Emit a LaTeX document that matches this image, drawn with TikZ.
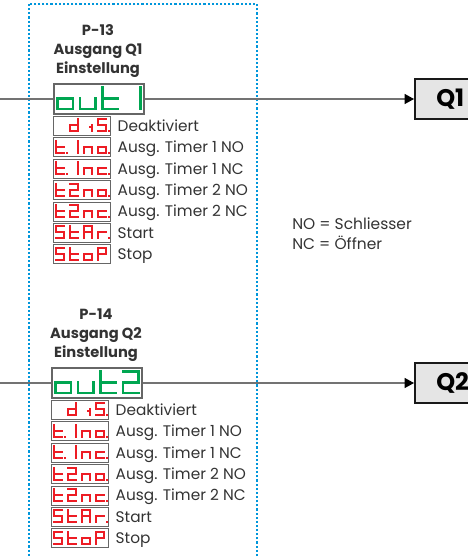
\documentclass[tikz,border=0pt]{standalone}
\usepackage{fontspec}
\setmainfont{Poppins}
\usetikzlibrary{arrows.meta,positioning}
\definecolor{ledred}{RGB}{237,28,36}
\definecolor{ledgreen}{RGB}{0,166,81}
\definecolor{frameblue}{RGB}{0,150,219}
% segments of one LED digit, unit cell (0,0)-(1,1), y downwards
\newcommand{\sgdef}[2]{\expandafter\def\csname lseg#1\endcsname{\draw #2;}}
\sgdef{a}{(0,0)--(1,0)}
\sgdef{b}{(1,0)--(1,.5)}
\sgdef{c}{(1,.5)--(1,1)}
\sgdef{d}{(0,1)--(1,1)}
\sgdef{e}{(0,.5)--(0,1)}
\sgdef{f}{(0,0)--(0,.5)}
\sgdef{g}{(0,.5)--(1,.5)}
\expandafter\def\csname lsegp\endcsname{\fill (1.22,.92) rectangle (1.44,1.08);}
\expandafter\def\csname lsegj\endcsname{\fill (.6,.55) rectangle (.8,.68);}
\newcommand{\ledchar}[3]{\begin{scope}[shift={(#2,0)},#1]\foreach \segl in {#3}{\csname lseg\segl\endcsname}\end{scope}}
\newcommand{\redled}[5]{\begin{scope}[shift={(#1.north west)}]
  \ledchar{redseg}{3}{#2}\ledchar{redseg}{17}{#3}\ledchar{redseg}{31}{#4}\ledchar{redseg}{45}{#5}\end{scope}}
\newcommand{\grnled}[5]{\begin{scope}[shift={(#1.north west)}]
  \ledchar{grnseg}{4.25}{#2}\ledchar{grnseg}{26.75}{#3}\ledchar{grnseg}{49.25}{#4}\ledchar{grnseg}{71.75}{#5}\end{scope}}

\begin{document}
\begin{tikzpicture}[x=0.75pt,y=-0.75pt,
  hdr/.style={align=center,font=\bfseries\fontsize{11}{14.25}\selectfont,text=black!80},
  dsp/.style={draw=black!60,line width=.9pt,fill=white,minimum width=67.5pt,minimum height=22.5pt,inner sep=0pt},
  opt/.style={draw=black!60,line width=.8pt,fill=white,minimum width=42.75pt,minimum height=14.25pt,inner sep=0pt},
  lbl/.style={font=\fontsize{11.5}{13}\selectfont,text=black!80,inner sep=0pt,text height=8pt,text depth=0pt},
  legend/.style={font=\fontsize{11.6}{15}\selectfont,text=black!80,inner sep=0pt,align=left},
  redseg/.style={yshift=-2.625pt,x=6pt,y=-9pt,color=ledred,line width=1.5pt,line cap=rect},
  grnseg/.style={yshift=-3.2pt,x=11.6pt,y=-16.1pt,color=ledgreen,line width=1.95pt,line cap=rect},
  ln/.style={draw=black!55,line width=.8pt},
  arr/.style={ln,-{Triangle[length=7pt,width=7.5pt,color=black]}},
  qbox/.style={draw=black!90,line width=1.5pt,fill=black!10,minimum height=30pt,inner xsep=16pt,font=\bfseries\fontsize{18}{20}\selectfont},
  frame/.style={draw=frameblue,line width=1.6pt,dash pattern=on 1.6pt off 1.5pt},
  node distance=1pt]
  \useasboundingbox (0,0) rectangle (468,558);
  \clip (0,0) rectangle (468,558);
  \draw[frame] (29,4) rectangle (257,600);
  % Q1
  \node[hdr] (h13) at (98,51) {P-13\\Ausgang Q1\\Einstellung};
  \node[dsp] (o1) at (99,99) {};
  \grnled{o1}{c,d,e,g}{c,d,e}{d,e,f,g}{b,c}
  \node[opt,below=of o1.south west,anchor=north west] (a1) {};
  \node[opt,below=of a1] (b1) {};
  \node[opt,below=of b1] (c1) {};
  \node[opt,below=of c1] (d1) {};
  \node[opt,below=of d1] (e1) {};
  \node[opt,below=of e1] (f1) {};
  \node[opt,below=of f1] (g1) {};
  \redled{a1}{}{b,c,d,e,g}{c,j}{a,f,g,c,d,p}
  \redled{b1}{d,e,f,g,p}{b,c}{c,e,g}{c,d,e,g,p}
  \redled{c1}{d,e,f,g,p}{b,c}{c,e,g}{d,e,g,p}
  \redled{d1}{d,e,f,g}{a,b,g,e,d}{c,e,g}{c,d,e,g,p}
  \redled{e1}{d,e,f,g}{a,b,g,e,d}{c,e,g}{d,e,g,p}
  \redled{f1}{a,f,g,c,d}{d,e,f,g}{a,b,c,e,f,g}{e,g,p}
  \redled{g1}{a,f,g,c,d}{d,e,f,g}{c,d,e,g}{a,b,e,f,g}
  \node[lbl,right=4.5pt of a1] (la1) {Deaktiviert};
  \node[lbl,right=4.5pt of b1] (lb1) {Ausg. Timer 1 NO};
  \node[lbl,right=4.5pt of c1] (lc1) {Ausg. Timer 1 NC};
  \node[lbl,right=4.5pt of d1] (ld1) {Ausg. Timer 2 NO};
  \node[lbl,right=4.5pt of e1] (le1) {Ausg. Timer 2 NC};
  \node[lbl,right=4.5pt of f1] (lf1) {Start};
  \node[lbl,right=4.5pt of g1] (lg1) {Stop};
  \coordinate (in1) at (0,99);
  \node[qbox,anchor=west] (q1) at (414,99) {Q1};
  \draw[ln](in1)--(o1);\draw[arr](o1)--(q1);
  % legend
  \node[legend,anchor=north west] (leg) at (292,217) {NO = Schliesser\\NC = Öffner};
  % Q2
  \node[hdr] (h14) at (96,335) {P-14\\Ausgang Q2\\Einstellung};
  \node[dsp] (o2) at (97,383) {};
  \grnled{o2}{c,d,e,g}{c,d,e}{d,e,f,g}{a,b,g,e,d}
  \node[opt,below=of o2.south west,anchor=north west] (a2) {};
  \node[opt,below=of a2] (b2) {};
  \node[opt,below=of b2] (c2) {};
  \node[opt,below=of c2] (d2) {};
  \node[opt,below=of d2] (e2) {};
  \node[opt,below=of e2] (f2) {};
  \node[opt,below=of f2] (g2) {};
  \redled{a2}{}{b,c,d,e,g}{c,j}{a,f,g,c,d,p}
  \redled{b2}{d,e,f,g,p}{b,c}{c,e,g}{c,d,e,g,p}
  \redled{c2}{d,e,f,g,p}{b,c}{c,e,g}{d,e,g,p}
  \redled{d2}{d,e,f,g}{a,b,g,e,d}{c,e,g}{c,d,e,g,p}
  \redled{e2}{d,e,f,g}{a,b,g,e,d}{c,e,g}{d,e,g,p}
  \redled{f2}{a,f,g,c,d}{d,e,f,g}{a,b,c,e,f,g}{e,g,p}
  \redled{g2}{a,f,g,c,d}{d,e,f,g}{c,d,e,g}{a,b,e,f,g}
  \node[lbl,right=4.5pt of a2] (la2) {Deaktiviert};
  \node[lbl,right=4.5pt of b2] (lb2) {Ausg. Timer 1 NO};
  \node[lbl,right=4.5pt of c2] (lc2) {Ausg. Timer 1 NC};
  \node[lbl,right=4.5pt of d2] (ld2) {Ausg. Timer 2 NO};
  \node[lbl,right=4.5pt of e2] (le2) {Ausg. Timer 2 NC};
  \node[lbl,right=4.5pt of f2] (lf2) {Start};
  \node[lbl,right=4.5pt of g2] (lg2) {Stop};
  \coordinate (in2) at (0,383);
  \node[qbox,anchor=west] (q2) at (414,383) {Q2};
  \draw[ln](in2)--(o2);\draw[arr](o2)--(q2);
\end{tikzpicture}
\end{document}
